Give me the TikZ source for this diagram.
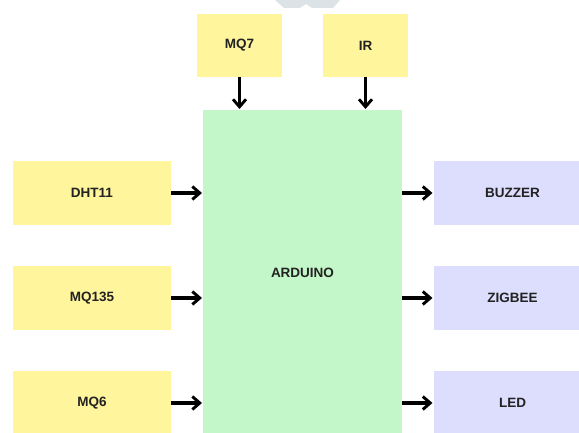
\documentclass[tikz,border=0pt]{standalone}
\usepackage{fontspec}
\setmainfont{Liberation Sans}
\usetikzlibrary{arrows.meta}
\definecolor{sensor}{HTML}{FFF59D}
\definecolor{core}{HTML}{C3F6C8}
\definecolor{outdev}{HTML}{DDDDFD}
\definecolor{txt}{HTML}{222222}
\definecolor{wmgray}{HTML}{DCE3E6}
\tikzset{
  blk/.style={inner sep=0pt, outer sep=0pt, draw=none, font=\fontsize{13.5}{15}\selectfont\bfseries, text=txt},
  sbox/.style={blk, fill=sensor},
  obox/.style={blk, fill=outdev},
  arr/.style={line width=3.1pt, draw=black, -{Straight Barb[length=7.5pt, width=13pt, line width=2.9pt]}, shorten >=1pt}
}
\begin{document}
\begin{tikzpicture}[x=1pt, y=-1pt]
\useasboundingbox (0,0) rectangle (579,433);
% partial watermark at top
\fill[wmgray] (275,0) -- (340,0) -- (333,8) -- (312,8) -- (306,4) -- (300,8) -- (284,8) -- cycle;
% boxes
\node[sbox, minimum width=85pt, minimum height=63pt] (mq7) at (239.5,45.5) {MQ7};
\node[sbox, minimum width=85pt, minimum height=63pt] (ir) at (365.5,45.5) {IR};
\node[blk, fill=core, minimum width=199pt, minimum height=325pt] (ard) at (302.5,272.5) {};
\node[blk] (ardlbl) at (302.5,273) {ARDUINO};
\node[sbox, minimum width=158pt, minimum height=64pt] (dht) at (92,193) {DHT11};
\node[sbox, minimum width=158pt, minimum height=64pt] (mq135) at (92,298) {MQ135};
\node[sbox, minimum width=158pt, minimum height=64pt] (mq6) at (92,403) {MQ6};
\node[obox, minimum width=158pt, minimum height=64pt] (buz) at (512.5,193) {BUZZER};
\node[obox, minimum width=158pt, minimum height=64pt] (zig) at (512.5,298) {ZIGBEE};
\node[obox, minimum width=158pt, minimum height=64pt] (led) at (512.5,403) {LED};
% arrows
\draw[arr] (mq7.south) -- (mq7.south |- ard.north);
\draw[arr] (ir.south) -- (ir.south |- ard.north);
\draw[arr] (dht.east) -- (dht.east -| ard.west);
\draw[arr] (mq135.east) -- (mq135.east -| ard.west);
\draw[arr] (mq6.east) -- (mq6.east -| ard.west);
\draw[arr] (buz.west -| ard.east) -- (buz.west);
\draw[arr] (zig.west -| ard.east) -- (zig.west);
\draw[arr] (led.west -| ard.east) -- (led.west);
\end{tikzpicture}
\end{document}
